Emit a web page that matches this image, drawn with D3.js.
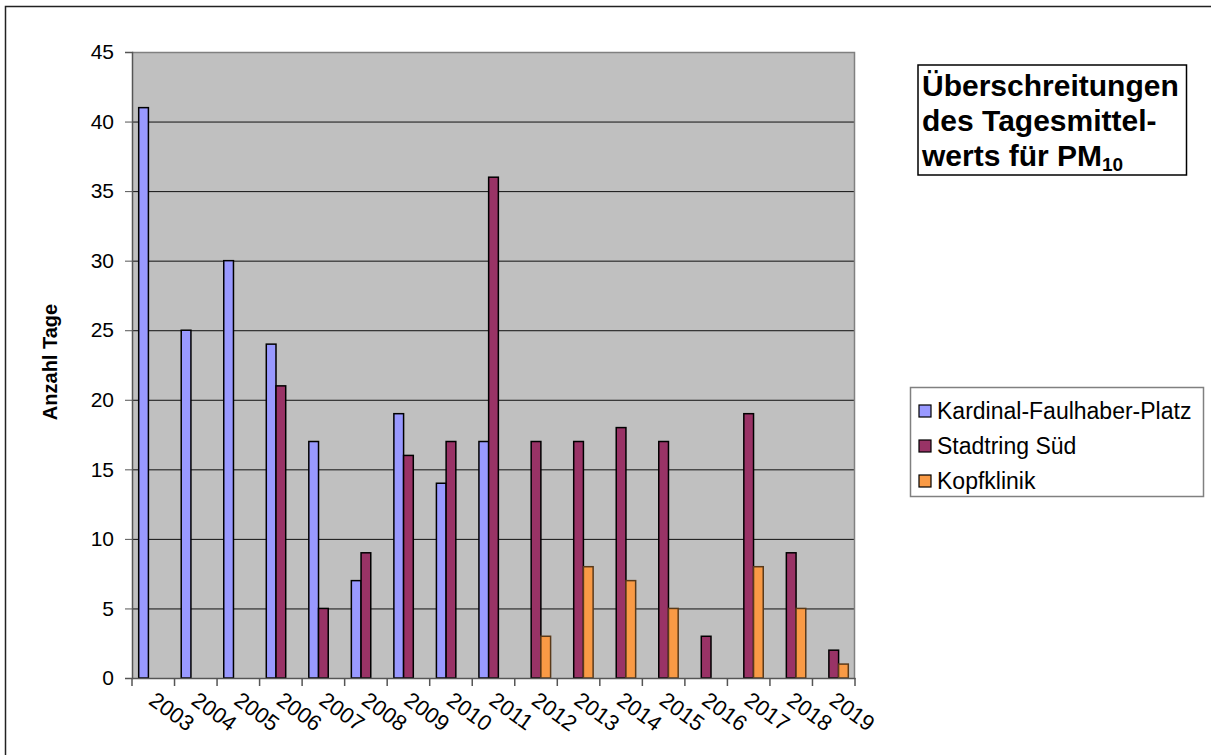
<!DOCTYPE html>
<html>
<head>
<meta charset="utf-8">
<script src="https://cdn.jsdelivr.net/npm/d3@7"></script>
<style>
  body { margin: 0; background: #fff; }
  svg { font-family: "Liberation Sans", Arial, sans-serif; }
</style>
</head>
<body>
<div id="chart-container"></div>
<script>
const years = ["2003", "2004", "2005", "2006", "2007", "2008", "2009", "2010", "2011",
  "2012", "2013", "2014", "2015", "2016", "2017", "2018", "2019"];
const seriesNames = ["Kardinal-Faulhaber-Platz", "Stadtring Süd", "Kopfklinik"];
const kardinal = [41, 25, 30, 24, 17, 7, 19, 14, 17, null, null, null, null, null, null, null, null];
const stadtring = [null, null, null, 21, 5, 9, 16, 17, 36, 17, 17, 18, 17, 3, 19, 9, 2];
const kopfklinik = [null, null, null, null, null, null, null, null, null, 3, 8, 7, 5, null, 8, 5, 1];
const yTicks = [0, 5, 10, 15, 20, 25, 30, 35, 40, 45];
const colors = ["#9999FF", "#993366", "#F99A45"];
const strokes = ["#000", "#000", "#5a3a1a"];

const allSeries = [kardinal, stadtring, kopfklinik];

const W = 1211, H = 755;
const margin = { top: 52, left: 132, right: 356, bottom: 77 };
const width = W - margin.left - margin.right;
const height = H - margin.top - margin.bottom;

const svg = d3.select("#chart-container").append("svg")
  .attr("width", W).attr("height", H);

// outer chart border
svg.append("rect").attr("x", 5.5).attr("y", 6.5).attr("width", W + 10).attr("height", H + 10)
  .attr("fill", "none").attr("stroke", "#222").attr("stroke-width", 1.5);

const g = svg.append("g").attr("transform", `translate(${margin.left},${margin.top})`);

const x = d3.scaleBand().domain(years).range([0, width]).paddingInner(0).paddingOuter(0);
const xs = d3.scaleBand().domain(seriesNames).range([0, x.bandwidth() * 0.685]);
const groupOffset = (x.bandwidth() - xs.range()[1]) / 2;
const y = d3.scaleLinear().domain([0, 45]).range([height, 0]);

// plot background
g.append("rect").attr("width", width).attr("height", height).attr("fill", "#C0C0C0");

// gridlines
g.append("g").selectAll("line").data(yTicks.slice(1, -1)).join("line")
  .attr("x1", 0).attr("x2", width)
  .attr("y1", d => y(d) + 0.5).attr("y2", d => y(d) + 0.5)
  .attr("stroke", "#111").attr("stroke-width", 1);

// top and right border of plot
g.append("path").attr("d", `M0,0.5H${width - 0.5}V${height}`)
  .attr("fill", "none").attr("stroke", "#808080").attr("stroke-width", 1.5);

// bars
allSeries.forEach((vals, si) => {
  g.append("g").selectAll("rect")
    .data(years.map((yr, i) => ({ yr, v: vals[i] })).filter(d => d.v != null))
    .join("rect")
    .attr("x", d => x(d.yr) + groupOffset + xs(seriesNames[si]))
    .attr("y", d => y(d.v))
    .attr("width", xs.bandwidth())
    .attr("height", d => height - y(d.v))
    .attr("fill", colors[si])
    .attr("stroke", strokes[si])
    .attr("stroke-width", 1.5);
});

// y axis
const yAxis = g.append("g")
  .call(d3.axisLeft(y).tickValues(yTicks).tickSize(7).tickPadding(11))
  .attr("font-family", null).attr("font-size", null);
yAxis.select(".domain").attr("stroke", "#555").attr("stroke-width", 1.5);
yAxis.selectAll(".tick line").attr("stroke", "#555");
yAxis.selectAll("text").style("font-size", "21px").attr("fill", "#000");

// x axis
const xAxis = g.append("g").attr("transform", `translate(0,${height})`)
  .call(d3.axisBottom(x).tickSizeInner(0).tickSizeOuter(0).tickFormat(""));
xAxis.select(".domain").attr("stroke", "#555").attr("stroke-width", 1.5);
g.append("g").selectAll("line").data(years.concat(["end"])).join("line")
  .attr("x1", (d, i) => i * x.step()).attr("x2", (d, i) => i * x.step())
  .attr("y1", height).attr("y2", height + 8)
  .attr("stroke", "#555").attr("stroke-width", 1.5);
g.append("g").selectAll("text").data(years).join("text")
  .attr("transform", d => `translate(${x(d) + x.bandwidth() / 2 + 4},${height + 12}) rotate(36)`)
  .attr("dy", "0.75em")
  .style("font-size", "22px")
  .text(d => d);

// y axis title
svg.append("text")
  .attr("transform", `translate(57,${margin.top + height / 2 - 3}) rotate(-90)`)
  .attr("text-anchor", "middle")
  .style("font-size", "20px").style("font-weight", "bold")
  .text("Anzahl Tage");

// title box
svg.append("rect").attr("x", 918).attr("y", 65).attr("width", 268.5).attr("height", 110)
  .attr("fill", "#fff").attr("stroke", "#000").attr("stroke-width", 1.5);
const title = svg.append("text").style("font-size", "30px").style("font-weight", "bold");
title.append("tspan").attr("x", 922).attr("y", 96).text("Überschreitungen");
title.append("tspan").attr("x", 922).attr("y", 131).text("des Tagesmittel-");
title.append("tspan").attr("x", 922).attr("y", 166).text("werts für PM");
title.append("tspan").attr("dy", 5).style("font-size", "19px").text("10");

// legend
const legend = svg.append("g");
legend.append("rect").attr("x", 910.5).attr("y", 387.5).attr("width", 293).attr("height", 109)
  .attr("fill", "#fff").attr("stroke", "#808080").attr("stroke-width", 1.5);
const items = legend.selectAll("g").data(seriesNames).join("g")
  .attr("transform", (d, i) => `translate(919,${405 + i * 35})`);
items.append("rect").attr("width", 12).attr("height", 12)
  .attr("fill", (d, i) => colors[i]).attr("stroke", "#000").attr("stroke-width", 1.2);
items.append("text").attr("x", 18).attr("y", 14)
  .style("font-size", "23px").text(d => d);
</script>
</body>
</html>
